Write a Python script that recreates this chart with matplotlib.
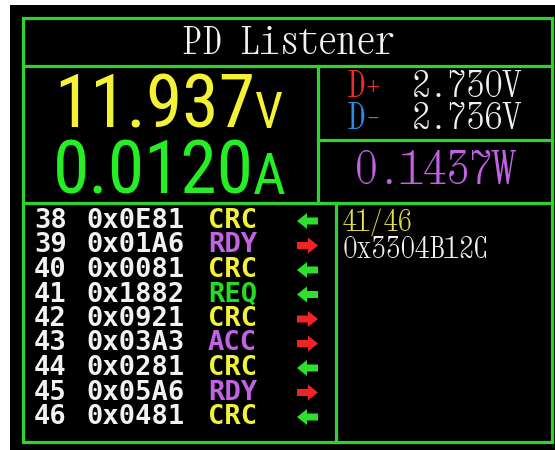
import matplotlib
matplotlib.use("Agg")
import matplotlib.pyplot as plt
from matplotlib.patches import Rectangle, FancyArrow
from matplotlib import font_manager as fm

title = "PD Listener"
voltage = "11.937"
current = "0.0120"
dplus_label, dplus_value = "D+", "2.730V"
dminus_label, dminus_value = "D-", "2.736V"
power = "0.1437W"
msg_index = "41/46"
msg_raw = "0x3304B12C"

row_ids = [38, 39, 40, 41, 42, 43, 44, 45, 46]
row_hex = ["0x0E81", "0x01A6", "0x0081", "0x1882", "0x0921",
           "0x03A3", "0x0281", "0x05A6", "0x0481"]
row_codes = ["CRC", "RDY", "CRC", "REQ", "CRC", "ACC", "CRC", "RDY", "CRC"]
row_dirs = ["in", "out", "in", "in", "out", "out", "in", "out", "in"]

# ---- styles ----
FRAME = "#2fd22f"
YELLOW = "#f4f236"
GREEN = "#25ee25"
VIOLET = "#c263e6"
RED = "#f02a2a"
BLUE = "#2b8ce8"
WHITE = "#f2f2f2"
code_colors = {"CRC": YELLOW, "RDY": VIOLET, "REQ": "#22dd22", "ACC": VIOLET}
dir_colors = {"in": "#2ee02e", "out": "#f02424"}

installed = {f.name for f in fm.fontManager.ttflist}


def pick(cands, fallback):
    found = [c for c in cands if c in installed]
    return (found[:1] or []) + [fallback]


MONO_SERIF = pick(["Xanh Mono", "Courier Prime", "Cutive Mono", "Nimbus Mono PS",
                   "FreeMono", "Liberation Serif", "DejaVu Serif"], "DejaVu Sans Mono")
BIG = pick(["Roboto Condensed", "Archivo Narrow", "Liberation Sans Narrow"], "DejaVu Sans")
LIST = ["DejaVu Sans Mono"]

fig = plt.figure(figsize=(5.55, 4.5), dpi=100, facecolor="white")
ax = fig.add_axes([0, 0, 1, 1])
ax.set_xlim(0, 555)
ax.set_ylim(450, 0)
ax.axis("off")
renderer = fig.canvas.get_renderer()


def fit(t, width_px):
    """Scale a text's font size so it spans about width_px pixels."""
    w = t.get_window_extent(renderer).width
    if w > 0:
        t.set_fontsize(t.get_fontsize() * width_px / w)
    return t


# screen background
ax.add_patch(Rectangle((10, 5), 545, 445, facecolor="black", edgecolor="none"))

lw = 2.3
# frame lines
ax.add_patch(Rectangle((23, 18), 529, 424, facecolor="none", edgecolor=FRAME, lw=lw))
ax.plot([23, 552], [66, 66], color=FRAME, lw=lw)
ax.plot([318, 318], [66, 203], color=FRAME, lw=lw)
ax.plot([318, 552], [140, 140], color=FRAME, lw=lw)
ax.plot([23, 552], [203, 203], color=FRAME, lw=lw)
ax.plot([336, 336], [203, 442], color=FRAME, lw=lw)

# title
fit(ax.text(289, 44, title, color=WHITE, family=MONO_SERIF, fontsize=26,
            ha="center", va="center"), 212)

# big readings
ax.text(54, 128, voltage, color=YELLOW, family=BIG, fontsize=53,
        ha="left", va="baseline")
ax.text(255, 128, "V", color=YELLOW, family=BIG, fontsize=36,
        ha="left", va="baseline")
ax.text(53, 194, current, color=GREEN, family=BIG, fontsize=53,
        ha="left", va="baseline")
ax.text(253, 194, "A", color=GREEN, family=BIG, fontsize=41,
        ha="left", va="baseline")

# D+ / D-
fit(ax.text(347, 87, dplus_label, color=RED, family=MONO_SERIF, fontsize=24,
            ha="left", va="center"), 37)
fit(ax.text(522, 87, dplus_value, color=WHITE, family=MONO_SERIF, fontsize=24,
            ha="right", va="center"), 111)
fit(ax.text(347, 119, dminus_label, color=BLUE, family=MONO_SERIF, fontsize=24,
            ha="left", va="center"), 37)
fit(ax.text(522, 119, dminus_value, color=WHITE, family=MONO_SERIF, fontsize=24,
            ha="right", va="center"), 111)

# power
fit(ax.text(435, 172, power, color=VIOLET, family=MONO_SERIF, fontsize=30,
            ha="center", va="center"), 160)

# message detail
fit(ax.text(343, 223, msg_index, color="#e6e04a", family=MONO_SERIF, fontsize=19,
            ha="left", va="center"), 70)
fit(ax.text(343, 250, msg_raw, color=WHITE, family=MONO_SERIF, fontsize=19,
            ha="left", va="center"), 147)

# message list
y0, dy = 221, 24.5
for i, (rid, hx, code, d) in enumerate(zip(row_ids, row_hex, row_codes, row_dirs)):
    y = y0 + i * dy
    ax.text(34, y, str(rid), color=WHITE, family=LIST, weight="bold",
            fontsize=19.5, ha="left", va="center")
    ax.text(86, y, hx, color=WHITE, family=LIST, weight="bold",
            fontsize=19.5, ha="left", va="center")
    ax.text(208, y, code, color=code_colors[code], family=LIST, weight="bold",
            fontsize=19.5, ha="left", va="center")
    if d == "in":
        xs, dx = 318, -21
    else:
        xs, dx = 297, 21
    ax.add_patch(FancyArrow(xs, y, dx, 0, width=7, head_width=16,
                            head_length=10, length_includes_head=True,
                            color=dir_colors[d], lw=0))

fig.savefig("out.png", dpi=100, facecolor="white")
